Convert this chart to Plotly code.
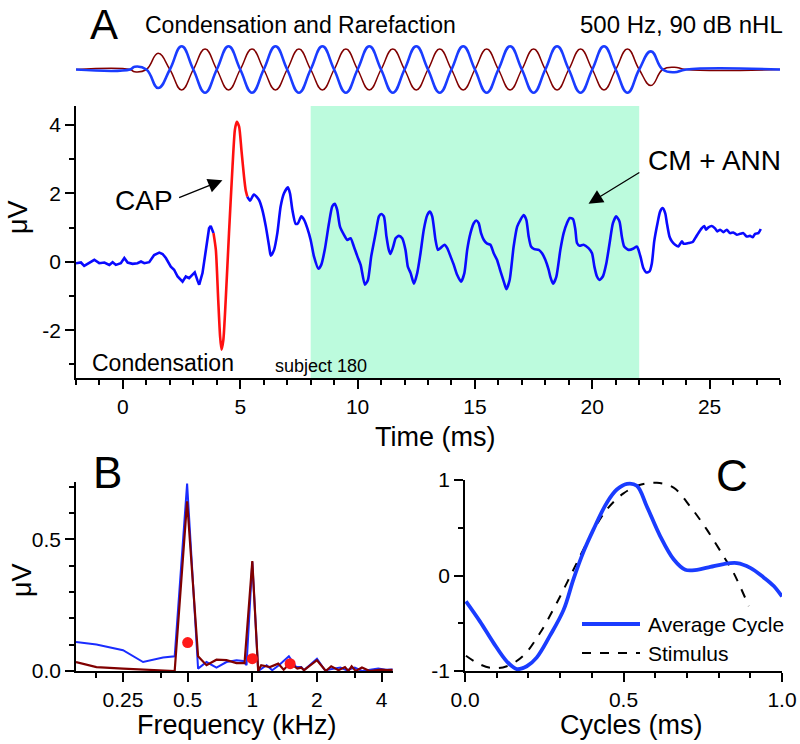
import math
import plotly.graph_objects as go

W, H = 800, 744
FONT = "Arial, Liberation Sans, sans-serif"

# ---- panel A : condensation response (ms, uV) ----
PRE_T = [-2.0, -1.79, -1.65, -1.43, -1.22, -1.01, -0.79, -0.58, -0.44, -0.3, -0.09, 0.06, 0.2, 0.41,
         0.62, 0.77, 0.91, 1.12, 1.33, 1.55, 1.69, 1.83, 2.04, 2.18, 2.33, 2.54, 2.68, 2.82, 2.96,
         3.06, 3.18, 3.25, 3.39, 3.53, 3.67, 3.74, 3.86]
PRE_V = [-0.04, -0.02, -0.12, -0.02, 0.06, -0.04, -0.02, -0.09, -0.01, -0.09, -0.04, 0.11, -0.02, -0.06,
         -0.04, 0.01, -0.04, -0.01, 0.2, 0.27, 0.23, 0.11, -0.14, -0.23, -0.43, -0.58, -0.43, -0.48, -0.38,
         -0.31, -0.55, -0.67, -0.33, 0.35, 0.98, 1.05, 0.84]

CAP_T = [3.86, 3.96, 4.06, 4.14, 4.2, 4.28, 4.38, 4.52, 4.67, 4.77, 4.85, 4.95, 5.05, 5.16, 5.23, 5.3]
CAP_V = [0.84, 0.35, -1.11, -2.18, -2.57, -2.28, -1.11, 0.84, 2.79, 3.86, 4.1, 3.96, 3.27, 2.49, 2.1, 1.91]

POST_T = [5.3, 5.42, 5.58, 5.8, 5.94, 6.09, 6.23, 6.3, 6.44, 6.58, 6.72, 6.86, 7.03, 7.12, 7.22, 7.36,
          7.46, 7.6, 7.72, 7.86, 8.0, 8.14, 8.33, 8.45, 8.6, 8.78, 8.92, 9.03, 9.13, 9.25, 9.42, 9.56,
          9.7, 9.84, 9.99, 10.13, 10.31, 10.44, 10.58, 10.77, 10.91, 11.01, 11.12, 11.23, 11.33, 11.4,
          11.52, 11.62, 11.76, 11.9, 12.04, 12.14, 12.26, 12.4, 12.54, 12.68, 12.82, 12.97, 13.08, 13.18,
          13.32, 13.42, 13.53, 13.7, 13.82, 13.96, 14.1, 14.24, 14.41, 14.55, 14.67, 14.81, 14.95, 15.06,
          15.16, 15.26, 15.38, 15.52, 15.66, 15.8, 15.94, 16.09, 16.23, 16.34, 16.48, 16.65, 16.8, 16.94,
          17.08, 17.19, 17.29, 17.39, 17.53, 17.72, 17.86, 18.0, 18.14, 18.21, 18.33, 18.47, 18.64, 18.78,
          18.92, 19.04, 19.18, 19.28, 19.35, 19.46, 19.63, 19.84, 19.99, 20.09, 20.2, 20.31, 20.45, 20.6,
          20.74, 20.88, 21.02, 21.16, 21.26, 21.36, 21.55, 21.76, 21.9, 21.97, 22.07, 22.18, 22.3, 22.44,
          22.54, 22.64, 22.78, 22.89, 23.0, 23.11, 23.18, 23.29, 23.39, 23.53, 23.67, 23.82, 23.89, 24.1,
          24.28, 24.43, 24.52, 24.66, 24.77, 24.85, 24.95, 25.09, 25.23, 25.33, 25.45, 25.59, 25.73, 25.87,
          26.01, 26.16, 26.3, 26.44, 26.58, 26.72, 26.84, 26.94, 27.08, 27.18]
POST_V = [1.91, 1.79, 1.97, 1.81, 1.52, 1.03, 0.45, 0.18, 0.35, 0.84, 1.62, 2.0, 2.18, 2.0, 1.52, 1.11,
          1.13, 1.33, 1.23, 0.98, 0.64, 0.16, -0.2, -0.09, 0.35, 1.13, 1.62, 1.7, 1.52, 1.03, 0.79, 0.64,
          0.69, 0.45, 0.16, -0.09, -0.67, -0.53, 0.16, 0.84, 1.33, 1.4, 1.33, 0.74, 0.35, 0.23,
          0.45, 0.69, 0.76, 0.69, 0.35, -0.14, -0.33, -0.64, -0.33, 0.25, 0.94, 1.37, 1.47, 1.33,
          0.64, 0.35, 0.4, 0.5, 0.4, 0.16, -0.09, -0.38, -0.58, -0.33, 0.35, 0.84, 1.13, 1.21,
          1.13, 0.84, 0.64, 0.53, 0.5, 0.25, 0.06, -0.28, -0.58, -0.8, -0.53, 0.45, 1.03, 1.23,
          1.37, 1.23, 0.74, 0.45, 0.37, 0.35, 0.25, 0.06, -0.23, -0.43, -0.64, -0.43, 0.35, 0.84,
          1.13, 1.28, 1.25, 0.94, 0.55, 0.47, 0.5, 0.4, 0.25, -0.14, -0.43, -0.53, -0.43, -0.04,
          0.55, 1.13, 1.33, 1.18, 0.74, 0.45, 0.35, 0.39, 0.45, 0.35, 0.11, -0.19, -0.31, -0.28,
          -0.04, 0.6, 1.13, 1.47, 1.57, 1.42, 1.13, 0.74, 0.6, 0.5, 0.45, 0.6, 0.53, 0.55,
          0.58, 0.74, 0.84, 0.98, 1.05, 0.94, 1.01, 1.05, 0.98, 0.89, 0.94, 0.87, 0.94, 0.84,
          0.86, 0.79, 0.82, 0.84, 0.74, 0.76, 0.72, 0.82, 0.84, 0.96]

SHADE_START, SHADE_END = 8, 22

# stimulus trace above panel A (same time axis), sampled every half millisecond
STIM_T = [-2, 0.3, 0.5, 1, 1.5, 2, 2.5, 3, 3.5, 4, 4.5, 5, 5.5, 6, 6.5, 7, 7.5, 8, 8.5, 9, 9.5, 10,
          10.5, 11, 11.5, 12, 12.5, 13, 13.5, 14, 14.5, 15, 15.5, 16, 16.5, 17, 17.5, 18, 18.5, 19,
          19.5, 20, 20.5, 21, 21.5, 22, 22.5, 23, 23.5, 24, 28]
STIM_COND = [0, 0, 0.12, 0, -0.8, 0, 1, 0, -1, 0, 1, 0, -1, 0, 1, 0, -1, 0, 1, 0, -1, 0,
             1, 0, -1, 0, 1, 0, -1, 0, 1, 0, -1, 0, 1, 0, -1, 0, 1, 0,
             -1, 0, 1, 0, -1, 0, 0.78, 0, -0.12, 0, 0]
STIM_RARE = [0, 0, -0.1, 0, 0.7, 0, -0.88, 0, 0.88, 0, -0.88, 0, 0.88, 0, -0.88, 0, 0.88, 0, -0.88, 0, 0.88, 0,
             -0.88, 0, 0.88, 0, -0.88, 0, 0.88, 0, -0.88, 0, 0.88, 0, -0.88, 0, 0.88, 0, -0.88, 0,
             0.88, 0, -0.88, 0, 0.88, 0, -0.69, 0, 0.1, 0, 0]

# ---- panel B : spectra (kHz, uV) ----
FREQ_B = [0.151, 0.188, 0.25, 0.31, 0.384, 0.435, 0.497, 0.559, 0.612, 0.681, 0.758, 0.844, 0.906, 0.94,
          1.0, 1.065, 1.166, 1.238, 1.33, 1.48, 1.6, 1.69, 1.74, 2.0, 2.18, 2.37, 2.57, 2.75, 3.0,
          3.24, 3.52, 3.86, 4.18, 4.5]
AMP_B = [0.11, 0.101, 0.079, 0.034, 0.051, 0.056, 0.712, 0.009, 0.034, 0.013, 0.034, 0.041, 0.038, 0.022,
         0.414, 0.0, 0.022, 0.003, 0.022, 0.056, 0.015, 0.015, 0.003, 0.047, 0.003, 0.009, 0.013, 0.003, 0.013,
         0.0, 0.003, 0.009, 0.005, 0.006]
FREQ_R = [0.151, 0.188, 0.25, 0.31, 0.384, 0.435, 0.497, 0.559, 0.612, 0.681, 0.758, 0.844, 0.92, 1.0,
          1.065, 1.1, 1.207, 1.32, 1.4, 1.5, 1.62, 1.69, 1.74, 2.0, 2.2, 2.33, 2.52, 2.7, 2.8, 2.9,
          3.03, 3.24, 3.52, 3.97, 4.25, 4.5]
AMP_R = [0.034, 0.015, 0.009, 0.005, 0.0, 0.0, 0.645, 0.056, 0.022, 0.043, 0.041, 0.03, 0.03, 0.418,
         0.0, 0.022, 0.015, 0.028, 0.005, 0.03, 0.009, 0.013, 0.003, 0.041, 0.0, 0.018, 0.003, 0.015, 0.0, 0.018,
         0.0, 0.013, 0.0, 0.005, 0.003, 0.004]
DOT_F = [0.5, 1.0, 1.5]
DOT_V = [0.108, 0.047, 0.028]

# ---- panel C : average cycle vs stimulus ----
CYC_X = [0.003, 0.047, 0.089, 0.132, 0.163, 0.195, 0.226, 0.268, 0.311, 0.342, 0.374, 0.405, 0.447, 0.479,
         0.511, 0.542, 0.574, 0.616, 0.658, 0.695, 0.732, 0.774, 0.816, 0.858, 0.9, 0.942, 0.974, 1.0]
CYC_Y = [-0.27, -0.48, -0.7, -0.9, -0.98, -0.95, -0.86, -0.63, -0.36, -0.04, 0.25, 0.48, 0.76, 0.9,
         0.96, 0.94, 0.72, 0.41, 0.17, 0.06, 0.06, 0.09, 0.12, 0.13, 0.08, -0.02, -0.11, -0.22]
STIMC_X = [0.003, 0.047, 0.089, 0.132, 0.184, 0.237, 0.289, 0.342, 0.395, 0.447, 0.5, 0.553, 0.605, 0.658,
           0.711, 0.763, 0.816, 0.847, 0.895]
STIMC_Y = [-0.84, -0.93, -0.97, -0.95, -0.84, -0.6, -0.29, 0.06, 0.41, 0.69, 0.86, 0.95, 0.97, 0.92,
           0.72, 0.48, 0.2, 0.03, -0.32]

BLUE = "#0a0aff"
DARKRED = "#800000"


def px(x):
    return x / W


def py(y):
    return 1 - y / H


def axisStyle(**kw):
    d = dict(showline=True, linecolor="black", linewidth=1.6, ticks="outside", ticklen=9, tickwidth=1.6,
             tickcolor="black", showgrid=False, zeroline=False, tickfont=dict(size=21, color="black"),
             automargin=False)
    d.update(kw)
    return d


def minorTicks(**kw):
    d = dict(ticklen=5, tickwidth=1.6, tickcolor="black", ticks="outside")
    d.update(kw)
    return d


fig = go.Figure()

# panel A
fig.add_trace(go.Scatter(x=PRE_T, y=PRE_V, mode="lines", line=dict(color=BLUE, width=2.6),
                         xaxis="x", yaxis="y", showlegend=False))
fig.add_trace(go.Scatter(x=POST_T, y=POST_V, mode="lines", line=dict(color=BLUE, width=2.6, shape="spline", smoothing=0.6),
                         xaxis="x", yaxis="y", showlegend=False))
fig.add_trace(go.Scatter(x=CAP_T, y=CAP_V, mode="lines", line=dict(color="#ff1010", width=2.6, shape="spline", smoothing=0.6),
                         xaxis="x", yaxis="y", showlegend=False))

# stimulus
fig.add_trace(go.Scatter(x=STIM_T, y=STIM_RARE, mode="lines", line=dict(color=DARKRED, width=1.5, shape="spline", smoothing=1.3),
                         xaxis="x2", yaxis="y2", showlegend=False))
fig.add_trace(go.Scatter(x=STIM_T, y=STIM_COND, mode="lines", line=dict(color="#1a3cff", width=2.6, shape="spline", smoothing=1.3),
                         xaxis="x2", yaxis="y2", showlegend=False))

# panel B
fig.add_trace(go.Scatter(x=FREQ_B, y=AMP_B, mode="lines", line=dict(color="#1a2cff", width=2),
                         xaxis="x3", yaxis="y3", showlegend=False))
fig.add_trace(go.Scatter(x=FREQ_R, y=AMP_R, mode="lines", line=dict(color=DARKRED, width=2.2),
                         xaxis="x3", yaxis="y3", showlegend=False))
fig.add_trace(go.Scatter(x=DOT_F, y=DOT_V, mode="markers", marker=dict(color="#ff1a1a", size=11),
                         xaxis="x3", yaxis="y3", showlegend=False))

# panel C
fig.add_trace(go.Scatter(x=STIMC_X, y=STIMC_Y, mode="lines", line=dict(color="black", width=2, dash="dash", shape="spline"),
                         xaxis="x4", yaxis="y4", showlegend=False))
fig.add_trace(go.Scatter(x=CYC_X, y=CYC_Y, mode="lines", line=dict(color="#1a3cff", width=3.8, shape="spline"),
                         xaxis="x4", yaxis="y4", showlegend=False))

domA = [px(76), px(780)]
domB = [px(76), px(393)]
domC = [px(465), px(782)]

fig.update_layout(
    width=W, height=H, autosize=False,
    margin=dict(l=0, r=0, t=0, b=0),
    paper_bgcolor="white", plot_bgcolor="rgba(0,0,0,0)",
    font=dict(family=FONT, color="black"),
    xaxis=axisStyle(domain=domA, anchor="y", range=[-2, 28], tickvals=[0, 5, 10, 15, 20, 25],
                    minor=minorTicks(dtick=1, tick0=0)),
    yaxis=axisStyle(domain=[py(378), py(106)], anchor="x", range=[-3.4, 4.56], tickvals=[-2, 0, 2, 4],
                    ticktext=["-2", "0", "2", "4"], minor=minorTicks(dtick=1, tick0=0)),
    xaxis2=dict(domain=domA, anchor="y2", range=[-2, 28], visible=False),
    yaxis2=dict(domain=[py(95), py(44)], anchor="x2", range=[-1.1, 1.1], visible=False),
    xaxis3=axisStyle(domain=domB, anchor="y3", type="log", range=[math.log10(0.151), math.log10(4.52)],
                     tickvals=[0.25, 0.5, 1, 2, 4], ticktext=["0.25", "0.5", "1", "2", "4"],
                     minor=minorTicks(tickmode="array", tickvals=[0.1875, 0.375, 3])),
    yaxis3=axisStyle(domain=[py(671), py(482)], anchor="x3", range=[0, 0.718], tickvals=[0, 0.5],
                     ticktext=["0.0", "0.5"], minor=minorTicks(dtick=0.1, tick0=0)),
    xaxis4=axisStyle(domain=domC, anchor="y4", range=[0, 1], tickvals=[0, 0.5, 1], ticktext=["0.0", "0.5", "1.0"],
                     minor=minorTicks(dtick=0.1, tick0=0)),
    yaxis4=axisStyle(domain=[py(671), py(480)], anchor="x4", range=[-1, 1], tickvals=[-1, 0, 1],
                     ticktext=["-1", "0", "1"], minor=minorTicks(dtick=0.5, tick0=0)),
)

fig.add_shape(type="rect", xref="x", yref="y domain", x0=SHADE_START, x1=SHADE_END, y0=0, y1=1,
              fillcolor="#bcfbdd", line=dict(width=0), layer="below")

# legend for panel C drawn by hand
fig.add_shape(type="line", xref="paper", yref="paper", x0=px(582), x1=px(640), y0=py(624), y1=py(624),
              line=dict(color="#1a3cff", width=3.8))
fig.add_shape(type="line", xref="paper", yref="paper", x0=px(582), x1=px(640), y0=py(653), y1=py(653),
              line=dict(color="black", width=2, dash="dash"))


def note(text, x, y, size, xanchor="left", **kw):
    fig.add_annotation(text=text, x=px(x), y=py(y), xref="paper", yref="paper", showarrow=False,
                       xanchor=xanchor, yanchor="middle", font=dict(size=size, color="black", family=FONT), **kw)


note("A", 104, 25, 42, xanchor="center")
note("B", 107, 472, 44, xanchor="center")
note("C", 732, 475, 44, xanchor="center")
note("Condensation and Rarefaction", 143, 25, 23)
note("500 Hz, 90 dB nHL", 785, 25, 24, xanchor="right")
note("CAP", 113, 200, 28)
note("CM + ANN", 783, 160, 28, xanchor="right")
note("Condensation", 90, 363, 23)
note("subject 180", 273, 366, 18)
note("Time (ms)", 435, 437, 27, xanchor="center")
note("\u03bcV", 18, 217, 27, xanchor="center", textangle=-90)
note("Frequency (kHz)", 237, 725, 27, xanchor="center")
note("\u03bcV", 22, 580, 27, xanchor="center", textangle=-90)
note("Cycles (ms)", 631, 725, 27, xanchor="center")
note("Average Cycle", 646, 624, 21)
note("Stimulus", 646, 653, 21)

# arrows (data coords of panel A)
fig.add_annotation(x=4.24, y=2.39, ax=2.33, ay=1.86, xref="x", yref="y", axref="x", ayref="y", text="",
                   showarrow=True, arrowhead=2, arrowsize=2.2, arrowwidth=1.3, arrowcolor="black")
fig.add_annotation(x=19.84, y=1.7, ax=22.07, ay=2.64, xref="x", yref="y", axref="x", ayref="y", text="",
                   showarrow=True, arrowhead=2, arrowsize=2.2, arrowwidth=1.3, arrowcolor="black")

fig.write_html("out.html", config={"displayModeBar": False},
               post_script="document.body.style.margin='0';")
